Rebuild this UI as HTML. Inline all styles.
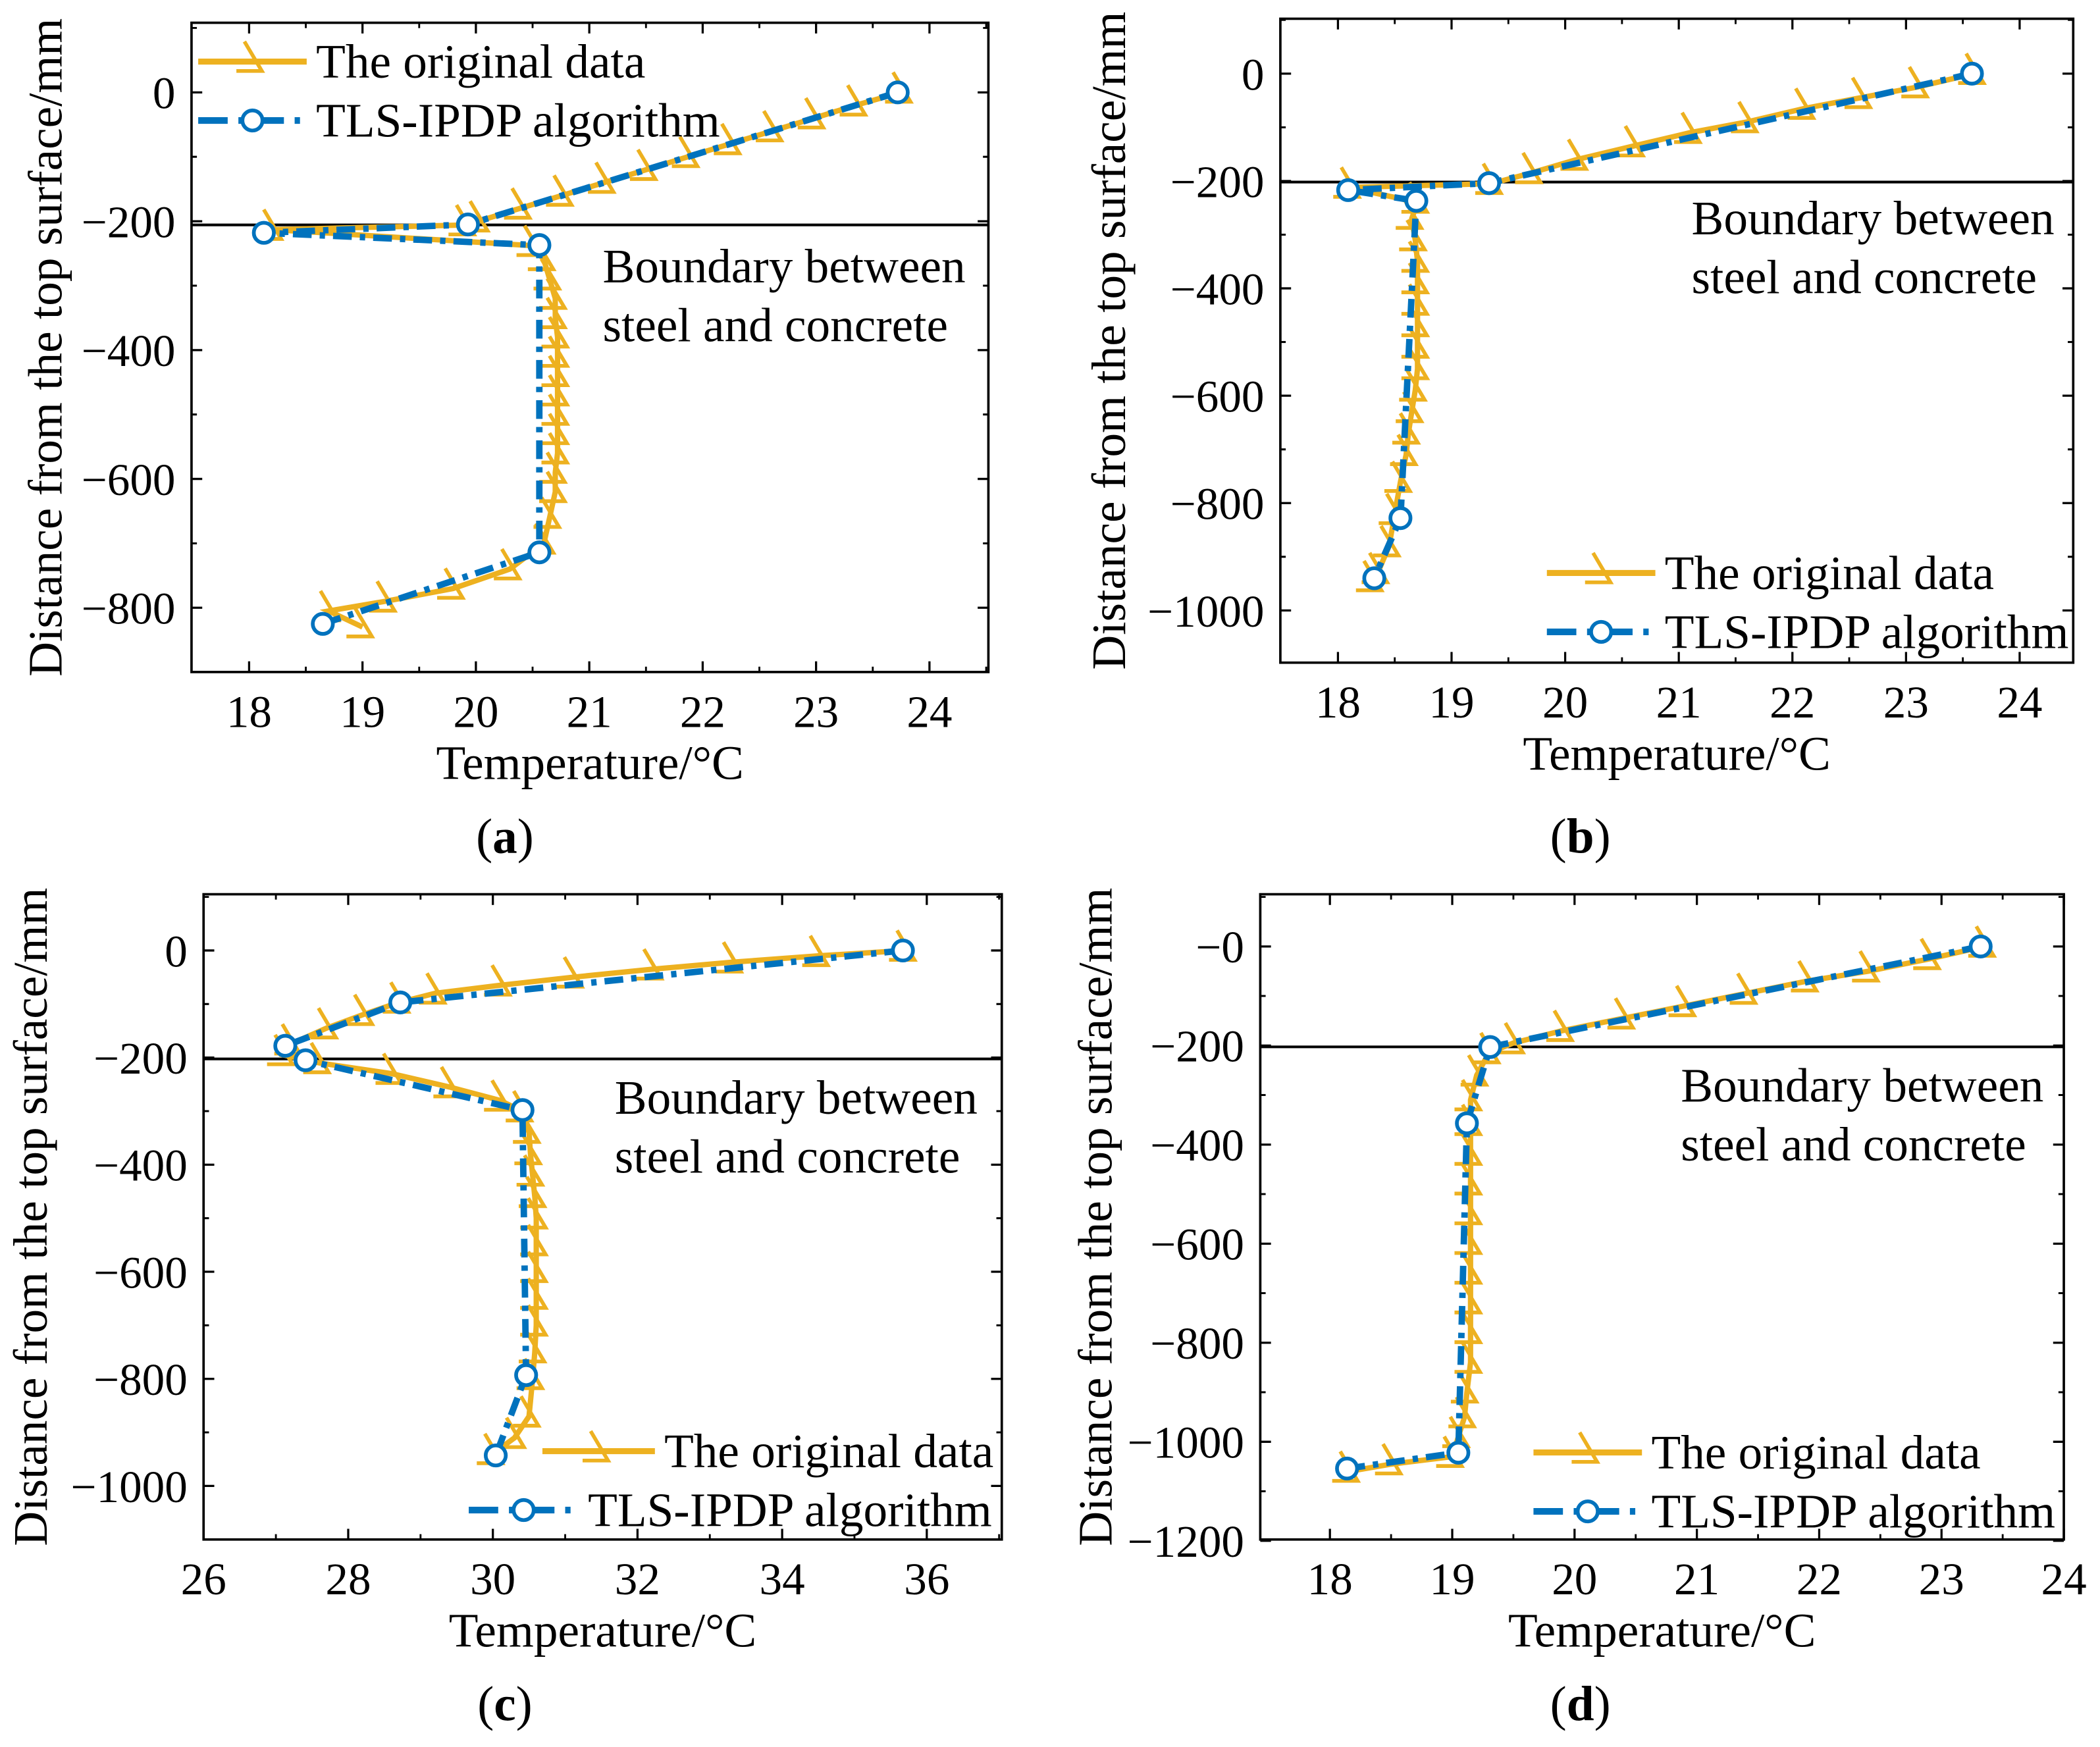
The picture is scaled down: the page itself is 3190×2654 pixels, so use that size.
<!DOCTYPE html>
<html><head><meta charset="utf-8"><style>
html,body{margin:0;padding:0;background:#fff}
svg{display:block}
text{font-family:"Liberation Serif",serif;fill:#000}
</style></head><body>
<svg id="fig" width="3190" height="2654" viewBox="0 0 1568 1305" preserveAspectRatio="none" xmlns="http://www.w3.org/2000/svg"></svg>
<script>
// Panel (a)
const aOrigT=[23.75,23.35,22.98,22.61,22.24,21.87,21.5,21.13,20.76,20.39,20.02,19.9,18.2,20.5,20.6,20.65,20.7,20.7,20.72,20.72,20.72,20.72,20.72,20.72,20.72,20.7,20.7,20.65,20.6,20.3,19.8,19.2,18.7,19.0];
const aOrigD=[0,-20,-40,-60,-80,-100,-120,-140,-160,-180,-200,-206,-213,-238,-260,-290,-320,-350,-380,-410,-440,-470,-500,-530,-560,-590,-620,-660,-700,-740,-770,-790,-805,-830];
const aFitT=[23.72,19.93,18.13,20.56,20.56,18.65];
const aFitD=[0,-205,-218,-237,-714,-825];
// Panel (b)
const bOrigT=[23.6,23.1,22.6,22.1,21.6,21.1,20.6,20.1,19.7,19.35,18.1,18.7,18.65,18.68,18.7,18.7,18.7,18.7,18.7,18.7,18.68,18.65,18.62,18.6,18.55,18.5,18.45,18.35,18.3];
const bOrigD=[0,-25,-45,-65,-90,-110,-135,-160,-185,-205,-212,-240,-270,-310,-350,-390,-430,-470,-510,-550,-590,-630,-670,-710,-760,-820,-880,-930,-945];
const bFitT=[23.58,19.33,18.09,18.69,18.55,18.32];
const bFitD=[0,-204,-217,-237,-828,-940];
// Panel (c)
const cOrigT=[35.7,34.5,33.3,32.2,31.1,30.1,29.2,28.7,28.2,27.7,27.2,27.1,27.6,28.6,29.4,30.1,30.4,30.5,30.52,30.55,30.58,30.6,30.6,30.6,30.6,30.6,30.58,30.55,30.5,30.3,30.0];
const cOrigD=[0,-10,-22,-35,-50,-65,-80,-97,-120,-145,-175,-195,-210,-230,-255,-280,-300,-340,-380,-420,-460,-500,-550,-600,-650,-700,-750,-800,-870,-910,-940];
const cFitT=[35.67,28.72,27.13,27.41,30.41,30.46,30.04];
const cFitD=[0,-97,-178,-205,-298,-793,-943];
// Panel (d)
const dOrigT=[23.35,22.9,22.4,21.9,21.4,20.9,20.4,19.9,19.5,19.3,19.2,19.15,19.15,19.15,19.15,19.15,19.15,19.15,19.15,19.15,19.15,19.12,19.1,19.05,19.0,18.5,18.15];
const dOrigD=[0,-25,-50,-70,-95,-120,-145,-170,-195,-215,-260,-310,-360,-420,-480,-540,-600,-660,-720,-780,-840,-900,-950,-990,-1030,-1045,-1060];
const dFitT=[23.32,19.31,19.12,19.05,18.14];
const dFitD=[0,-203,-357,-1022,-1054];

const aXTicks=[18,19,20,21,22,23,24], aYTicks=[0,-200,-400,-600,-800];
const bXTicks=[18,19,20,21,22,23,24], bYTicks=[0,-200,-400,-600,-800,-1000];
const cXTicks=[26,28,30,32,34,36], cYTicks=[0,-200,-400,-600,-800,-1000];
const dXTicks=[18,19,20,21,22,23,24], dYTicks=[0,-200,-400,-600,-800,-1000,-1200];

const NS="http://www.w3.org/2000/svg";
const svg=document.getElementById('fig');
const OR="#EDB120", BL="#0072BD";
function mk(tag,attrs,parent){const e=document.createElementNS(NS,tag);for(const k in attrs)e.setAttribute(k,attrs[k]);(parent||svg).appendChild(e);return e;}
function fmt(v){return v<0?'\u2212'+Math.abs(v):String(v);}
function tri(x,y){return `M${x-6},${y-15}L${x+7},${y+7}L${x-12},${y+7}`;}

function panel(cfg){
  const g=mk('g',{});
  
  
  const X=t=>cfg.x0px+(t-cfg.x0)*(cfg.x1px-cfg.x0px)/(cfg.x1-cfg.x0);
  const Y=d=>cfg.y0px+(d-cfg.y0)*(cfg.y1px-cfg.y0px)/(cfg.y1-cfg.y0);
  const b=cfg.box;
  const xt=cfg.xticks, step=xt[1]-xt[0];
  for(let i=0;i<xt.length;i++){
    const v=xt[i], px=X(v);
    if(px>=b.l-0.5&&px<=b.r+0.5){
      mk('line',{x1:px,x2:px,y1:b.b,y2:b.b-8,stroke:'#000','stroke-width':1.6},g);
      mk('line',{x1:px,x2:px,y1:b.t,y2:b.t+8,stroke:'#000','stroke-width':1.6},g);
    }
    const mpx=X(v+step/2);
    if(mpx>b.l&&mpx<b.r){
      mk('line',{x1:mpx,x2:mpx,y1:b.b,y2:b.b-4,stroke:'#000','stroke-width':1.4},g);
      mk('line',{x1:mpx,x2:mpx,y1:b.t,y2:b.t+4,stroke:'#000','stroke-width':1.4},g);
    }
    const lbl=mk('text',{x:px,y:b.b+41,'font-size':34,'text-anchor':'middle'},g);
    lbl.textContent=v;
    
    
  }
  const yt=cfg.yticks, ys=yt[0]-yt[1];
  for(let i=0;i<yt.length;i++){
    const v=yt[i], py=Y(v);
    mk('line',{x1:b.l,x2:b.l+8,y1:py,y2:py,stroke:'#000','stroke-width':1.6},g);
    mk('line',{x1:b.r,x2:b.r-8,y1:py,y2:py,stroke:'#000','stroke-width':1.6},g);
    for(const m of [v+ys/2,v-ys/2]){const mp=Y(m); if(mp>b.t&&mp<b.b){
      mk('line',{x1:b.l,x2:b.l+4,y1:mp,y2:mp,stroke:'#000','stroke-width':1.4},g);
      mk('line',{x1:b.r,x2:b.r-4,y1:mp,y2:mp,stroke:'#000','stroke-width':1.4},g);}}
    const lbl=mk('text',{x:b.l-12,y:py+12,'font-size':34,'text-anchor':'end'},g);
    lbl.textContent=(cfg.negZero&&v===0)?'\u22120':fmt(v);
    
    
  }
  const bl=mk('line',{x1:b.l,x2:b.r,y1:cfg.bound,y2:cfg.bound,stroke:'#000','stroke-width':2},g);
  
  
  let p='';cfg.oT.forEach((t,i)=>{p+=(i?'L':'M')+X(t).toFixed(1)+','+Y(cfg.oD[i]).toFixed(1);});
  const ol=mk('path',{d:p,fill:'none',stroke:OR,'stroke-width':4},g);
  
  
  cfg.oT.forEach((t,i)=>{const x=X(t),y=Y(cfg.oD[i]);
    const m=mk('path',{d:tri(x,y),fill:'none',stroke:OR,'stroke-width':2.8},g);
    
    });
  p='';cfg.fT.forEach((t,i)=>{p+=(i?'L':'M')+X(t).toFixed(1)+','+Y(cfg.fD[i]).toFixed(1);});
  const fl=mk('path',{d:p,fill:'none',stroke:BL,'stroke-width':4.8,'stroke-dasharray':'14,6,4,6'},g);
  
  
  cfg.fT.forEach((t,i)=>{
    const c=mk('circle',{cx:X(t),cy:Y(cfg.fD[i]),r:7.5,fill:'#fff',stroke:BL,'stroke-width':2.8},g);
    
    });
  const fr=mk('rect',{x:b.l,y:b.t,width:b.r-b.l,height:b.b-b.t,fill:'none',stroke:'#000','stroke-width':1.8},g);
  
  
  const bt=mk('text',{x:cfg.btx,y:cfg.bty,'font-size':36},g);
  bt.textContent='Boundary between';
  
  
  const bt2=mk('text',{x:cfg.btx,y:cfg.bty+44,'font-size':36},g);
  bt2.textContent='steel and concrete';
  
  
  const L=cfg.leg;
  const lg=mk('g',{},g);
  
  
  mk('line',{x1:L.x1,x2:L.x2,y1:L.y,y2:L.y,stroke:OR,'stroke-width':4.5},lg);
  const lm=(L.x1+L.x2)/2;
  mk('path',{d:tri(lm,L.y),fill:'none',stroke:OR,'stroke-width':2.8},lg);
  const t1=mk('text',{x:L.x2+7,y:L.y+12,'font-size':36},lg);t1.textContent='The original data';
  
  
  const y2=L.y+44, x1b=L.x1b||L.x1, x2b=L.x2b||L.x2;
  mk('line',{x1:x1b,x2:x2b,y1:y2,y2:y2,stroke:BL,'stroke-width':5,'stroke-dasharray':'22,8,4,8'},lg);
  mk('circle',{cx:(x1b+x2b)/2,cy:y2,r:7.5,fill:'#fff',stroke:BL,'stroke-width':2.8},lg);
  const t2=mk('text',{x:x2b+7,y:y2+12,'font-size':36},lg);t2.textContent='TLS-IPDP algorithm';
  
  
  const cy=(b.t+b.b)/2;
  const yt2=mk('text',{x:0,y:0,'font-size':36,'text-anchor':'middle',transform:`translate(${cfg.ytx},${cy}) rotate(-90)`},g);
  yt2.textContent='Distance from the top surface/mm';
  
  
  const xt2=mk('text',{x:(b.l+b.r)/2,y:b.b+80,'font-size':36,'text-anchor':'middle'},g);
  xt2.textContent='Temperature/\u00B0C';
  
  
  const pl=mk('text',{x:cfg.plx,y:cfg.ply,'font-size':37,'text-anchor':'middle'},g);
  pl.innerHTML='(<tspan font-weight="bold">'+cfg.id+'</tspan>)';
  
  
}

panel({id:'a',box:{l:143,r:738,t:17,b:502},x0:18,x1:24,x0px:186,x1px:694,y0:0,y1:-800,y0px:69,y1px:454,
  xticks:aXTicks,yticks:aYTicks,bound:168,oT:aOrigT,oD:aOrigD,fT:aFitT,fD:aFitD,
  btx:450,bty:211,leg:{x1:148,x2:229,y:46},ytx:46,plx:377,ply:637});
panel({id:'b',box:{l:956,r:1548,t:14,b:495},x0:18,x1:24,x0px:999,x1px:1508,y0:0,y1:-1000,y0px:55,y1px:456,
  xticks:bXTicks,yticks:bYTicks,bound:136,oT:bOrigT,oD:bOrigD,fT:bFitT,fD:bFitD,
  btx:1263,bty:175,leg:{x1:1155,x2:1236,y:428},ytx:840,plx:1180,ply:637});
panel({id:'c',box:{l:152,r:748,t:668,b:1150},x0:26,x1:36,x0px:152,x1px:692,y0:0,y1:-1000,y0px:710,y1px:1110,
  xticks:cXTicks,yticks:cYTicks,bound:791,oT:cOrigT,oD:cOrigD,fT:cFitT,fD:cFitD,
  btx:459,bty:832,leg:{x1:405,x2:489,y:1084,x1b:350,x2b:432},ytx:35,plx:377,ply:1285});
panel({id:'d',box:{l:941,r:1541,t:668,b:1150},x0:18,x1:24,x0px:993,x1px:1541,y0:0,y1:-1200,y0px:707,y1px:1151,
  xticks:dXTicks,yticks:dYTicks,bound:782,oT:dOrigT,oD:dOrigD,fT:dFitT,fD:dFitD,negZero:true,
  btx:1255,bty:823,leg:{x1:1145,x2:1226,y:1085},ytx:830,plx:1180,ply:1285});
</script>
</body></html>
